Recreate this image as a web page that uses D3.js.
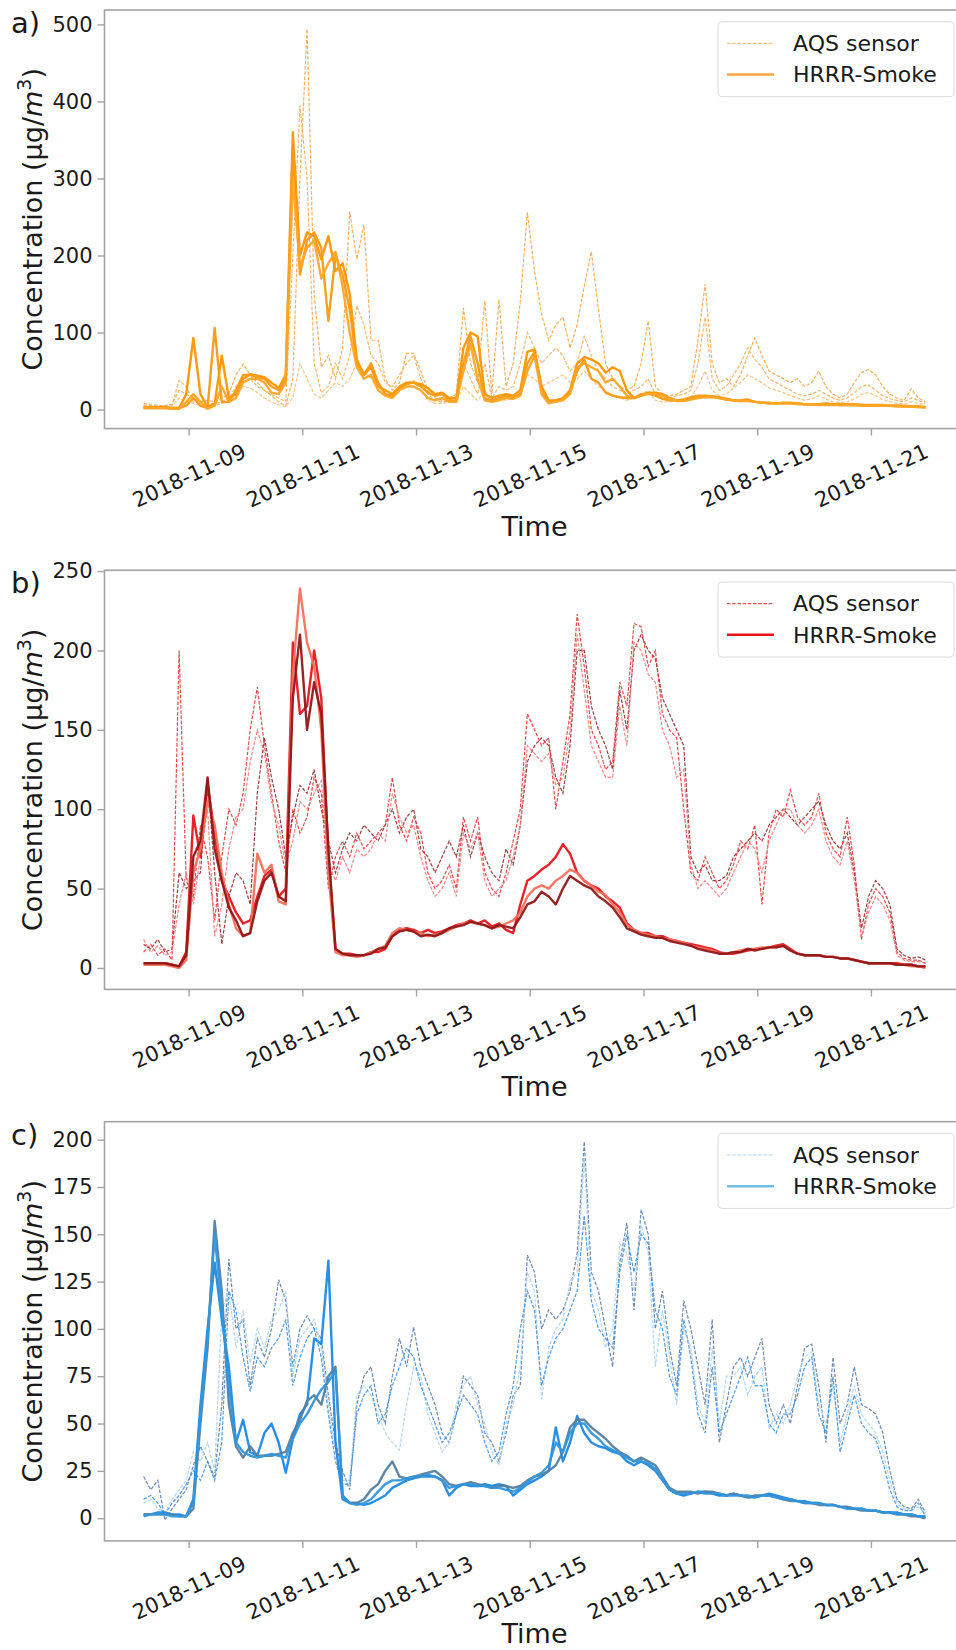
<!DOCTYPE html>
<html>
<head>
<meta charset="utf-8">
<script src="https://cdn.jsdelivr.net/npm/d3@7"></script>
<style>
  body { margin: 0; background: #fff; }
  svg { display: block; }
  text { font-family: "DejaVu Sans", sans-serif; }
</style>
</head>
<body>
<svg id="chart" width="956" height="1650"></svg>
<script>
// Three-hourly PM2.5 concentrations (µg/m³) from 2018-11-08 05:00 to 2018-11-21 23:00.
const startTime = new Date(2018, 10, 8, 5);
const stepHours = 3;
const tickLabels = ["2018-11-09", "2018-11-11", "2018-11-13", "2018-11-15", "2018-11-17", "2018-11-19", "2018-11-21"];

// Panel a) stations — AQS sensor readings
const aqsA1 = [8,6,5,5,7,25,20,15,10,12, 10,15,20,45,59,45,35,25,18,10, 5,40,300,494,150,55,70,40,80,257, 195,240,90,90,40,25,35,73,73,50, 25,15,12,15,20,132,60,35,141,20, 143,30,60,140,256,180,124,90,110,120, 80,110,160,205,130,60,40,30,25,30, 60,115,30,20,18,20,25,30,90,163, 60,35,40,30,45,70,93,70,50,45, 40,35,40,30,35,50,30,20,15,20, 35,48,52,45,30,20,15,12,27,15, 10];
const aqsA2 = [6,5,6,5,6,38,30,10,8,6, 8,10,15,30,42,40,30,25,20,15, 10,200,395,300,60,22,30,60,40,70, 135,110,70,60,35,30,45,60,70,40, 20,12,10,12,15,60,40,20,60,15, 30,25,30,60,100,80,60,70,80,70, 50,60,95,70,50,40,30,25,20,25, 30,40,20,15,15,18,20,25,60,120, 40,25,30,45,60,80,65,55,40,35, 30,25,20,18,20,25,20,15,12,15, 22,30,32,25,18,14,12,10,15,12, 8];
const aqsA3 = [5,4,4,4,5,15,10,8,5,5, 5,8,10,20,30,28,22,15,10,6, 4,15,60,40,20,15,25,35,30,40, 60,50,40,30,20,18,25,35,38,25, 12,8,8,10,10,30,20,12,25,10, 15,12,15,25,45,40,30,35,40,45, 35,40,50,40,30,25,18,15,12,15, 20,25,12,10,10,12,14,16,30,50, 25,18,20,28,35,45,40,35,28,25, 22,18,15,12,14,18,14,10,9,10, 14,20,22,18,13,10,8,7,10,8, 6];
// Panel a) stations — HRRR-Smoke forecasts
const hrrrA1 = [3,3,3,3,2,2,20,93,20,3, 8,70,15,20,40,46,44,42,35,28, 45,360,200,230,225,195,225,180,190,150, 65,45,55,30,25,20,30,35,35,33, 28,20,22,15,15,80,100,95,20,15, 18,20,18,25,75,78,30,12,12,15, 25,60,68,65,60,48,55,50,25,15, 18,22,22,20,15,12,12,14,16,17, 17,16,14,12,12,13,10,9,8,8, 9,9,8,7,7,7,8,7,7,7, 7,6,6,6,6,5,5,5,4,4, 3];
const hrrrA2 = [2,2,2,2,2,2,5,15,5,2, 106,10,10,25,45,45,42,40,30,25, 40,340,175,220,230,210,115,200,175,130, 60,45,60,35,20,18,28,33,35,30, 22,18,20,12,12,60,95,60,15,12, 15,18,15,20,60,75,25,10,12,14, 22,50,65,40,35,22,18,16,15,15, 20,21,18,14,12,12,13,16,18,18, 17,15,13,12,11,12,10,9,9,8, 8,8,8,7,7,7,7,7,6,6, 6,6,5,5,5,5,5,4,4,4, 3];
const hrrrA3 = [2,2,2,2,1,1,10,20,10,1, 5,30,10,15,35,40,40,35,22,20, 35,300,185,210,220,170,190,205,160,100, 55,40,45,25,18,15,25,30,30,25, 15,12,15,10,10,50,85,40,12,10, 12,15,14,18,50,70,20,8,10,12, 20,55,60,55,50,35,40,30,18,15, 18,20,20,18,14,11,11,13,15,16, 16,15,13,12,11,11,10,9,8,8, 8,8,7,7,7,6,6,6,6,6, 6,5,5,5,5,5,4,4,4,3, 3];

// Panel b) stations — AQS sensor readings
const aqsB1 = [15,12,18,10,12,60,50,55,60,120, 60,15,45,60,55,40,110,145,120,100, 70,95,115,110,125,100,80,60,75,85, 80,90,85,80,90,100,85,95,100,75, 70,60,70,80,70,90,70,85,70,60, 55,75,65,90,130,140,145,140,120,110, 140,200,200,165,150,140,125,175,150,200, 210,200,195,170,160,150,140,70,60,65, 55,55,58,70,75,80,85,80,90,95, 100,95,90,95,100,105,90,80,75,85, 60,25,45,55,50,40,12,8,6,7, 5];
const aqsB2 = [10,15,8,12,5,200,55,45,90,70, 30,70,100,90,110,150,177,140,110,80, 60,100,85,95,120,110,50,70,80,70, 85,75,80,85,90,120,90,80,95,85, 60,50,55,65,50,95,80,95,60,50, 45,60,80,100,160,150,140,145,100,130, 160,223,190,150,140,125,130,180,165,217, 215,190,200,160,150,145,100,60,55,70, 60,50,55,65,80,75,90,40,85,100, 95,112,95,90,95,110,85,75,70,95, 65,18,40,50,45,35,10,6,5,5, 3];
const aqsB3 = [18,10,14,8,10,40,60,40,70,100, 20,40,75,95,100,130,150,135,105,90, 65,80,105,100,110,118,65,55,70,60, 75,70,75,85,80,110,95,85,90,70, 55,45,50,60,45,85,75,85,55,45, 50,55,70,90,140,135,130,135,115,120, 150,210,175,140,130,120,120,165,140,205, 200,185,180,150,140,120,125,65,50,55, 50,45,50,60,70,80,75,60,80,90, 100,100,90,85,90,100,80,70,65,80, 55,20,35,45,40,30,8,5,4,4, 3];
// Panel b) stations — HRRR-Smoke forecasts
const hrrrB1 = [3,3,3,3,2,1,10,96,70,115, 85,55,45,35,28,30,45,58,62,45, 50,205,160,165,200,170,70,12,9,9, 8,8,10,10,12,20,24,25,24,22, 24,22,23,25,27,28,30,28,30,26, 28,24,22,40,55,58,62,65,70,78, 72,60,55,52,50,45,42,38,28,24, 22,22,20,20,18,17,16,15,14,13, 12,10,9,9,10,11,12,12,13,14, 15,12,9,8,8,8,7,7,6,6, 5,4,3,3,3,3,3,2,2,1, 1];
const hrrrB2 = [2,2,2,2,1,0,5,60,75,105, 90,60,40,25,20,22,72,60,65,42, 40,185,239,205,190,150,60,10,8,8, 7,8,10,12,14,22,25,24,23,22, 20,21,22,24,26,28,29,28,27,25, 26,28,30,35,45,50,52,50,55,58, 62,60,55,52,48,46,40,35,27,24, 22,21,20,19,18,17,16,14,13,12, 11,9,9,10,11,12,12,13,13,13, 14,11,9,8,8,8,7,7,6,6, 5,4,3,3,3,3,2,2,1,1, 0];
const hrrrB3 = [3,3,3,3,2,1,8,70,80,120, 75,55,38,30,20,22,42,55,60,45, 42,170,210,150,180,160,75,12,9,8, 8,8,9,12,13,20,23,24,23,20, 21,20,22,25,26,27,29,28,27,25, 27,26,25,32,40,42,48,45,40,50, 58,55,52,50,45,42,38,32,25,23, 21,20,19,19,17,16,15,14,12,11, 10,9,9,10,10,12,11,12,13,13, 14,11,9,8,8,8,7,7,6,6, 5,4,3,3,3,3,2,2,2,1, 1];

// Panel c) stations — AQS sensor readings
const aqsC1 = [22,15,20,-1,5,10,15,28,38,30, 22,60,137,100,105,70,95,85,100,126, 115,80,100,107,100,95,65,40,25,15, 60,75,80,60,50,75,95,80,101,80, 70,60,45,40,55,75,70,65,45,40, 30,45,65,70,139,130,100,110,105,110, 120,140,199,130,120,100,80,135,156,110, 163,150,100,120,90,70,115,100,80,60, 105,40,60,80,85,75,85,95,60,50, 60,50,70,90,92,70,40,85,50,60, 80,60,58,55,45,25,10,6,5,10, 3];
const aqsC2 = [8,10,5,3,10,15,20,35,30,40, 25,110,120,90,110,82,100,90,105,110, 120,75,95,100,105,90,60,35,20,20, 65,70,65,55,45,40,36,60,80,75, 55,45,35,40,60,70,75,60,50,35, 28,50,60,80,130,120,63,90,100,105, 125,130,190,120,110,90,100,145,140,120, 155,140,80,110,85,60,100,90,60,50, 90,50,75,75,80,65,75,80,47,55, 50,60,75,85,88,60,50,70,40,55, 70,55,50,45,35,20,8,5,4,6, 2];
const aqsC3 = [10,12,8,2,8,12,18,25,20,30, 20,40,120,110,85,67,85,80,90,95, 105,70,85,95,100,85,55,30,18,18, 55,65,70,50,55,70,80,90,85,70, 60,50,40,45,55,65,60,55,40,30, 35,55,70,100,120,110,70,85,95,100, 110,120,160,115,100,95,90,130,150,130, 150,145,110,100,75,65,105,85,55,45, 80,45,55,65,75,85,70,70,50,45, 55,55,65,80,85,55,45,75,35,50, 65,50,45,42,30,15,6,4,4,8, 1];
// Panel c) stations — HRRR-Smoke forecasts
const hrrrC1 = [2,2,3,3,2,2,1,10,60,100, 135,105,80,40,52,35,33,45,50,40, 24,42,55,60,95,92,136,40,10,8, 8,7,8,10,12,16,18,20,21,22, 22,22,20,12,16,18,17,17,18,17, 18,17,12,15,18,20,22,25,48,30, 40,54,45,40,38,37,35,34,30,28, 30,28,25,20,15,13,12,13,14,14, 13,12,12,13,12,11,11,12,13,12, 11,10,9,9,8,8,7,7,6,6, 5,5,4,4,3,3,3,2,2,1, 0];
const hrrrC2 = [2,2,2,2,2,1,1,5,50,90, 157,120,60,38,32,38,33,33,33,34, 35,45,52,62,65,60,75,80,12,8, 8,10,15,18,25,30,22,21,22,23, 24,25,22,18,17,18,19,18,17,16, 17,17,16,17,20,22,23,25,28,35, 48,52,52,48,45,42,38,35,33,30, 32,30,28,22,16,14,14,14,13,14, 14,13,12,13,12,11,12,12,12,11, 10,9,9,8,8,7,7,7,6,6, 5,4,4,4,3,3,2,2,1,1, 0];
const hrrrC3 = [1,2,2,2,1,1,1,8,55,95, 150,110,70,40,35,33,32,33,34,33, 32,42,50,55,62,68,72,78,12,8, 7,8,10,14,18,20,20,21,22,22, 23,22,20,16,17,18,18,17,17,16, 16,15,14,16,19,22,24,28,40,35, 45,50,50,45,42,38,36,34,32,30, 30,29,26,21,15,13,13,13,14,13, 13,13,12,12,12,12,11,12,12,11, 10,10,9,8,8,8,7,7,6,5, 5,5,4,4,3,3,2,2,2,1, 1];

// Panel setup: station series, colours and y-axis ticks
const panels = [
  {
    tag: "a)", top: 10, bottom: 428.6, yDomain: [-24.7, 518.7],
    yTicks: [0, 100, 200, 300, 400, 500],
    aqs: [aqsA1, aqsA2, aqsA3], hrrr: [hrrrA1, hrrrA2, hrrrA3],
    aqsColors: ["#f0a850", "#f3b060", "#f6bf78"],
    hrrrColors: ["#ff9500", "#f99a10", "#ffa526"],
    legendAqs: "#f7c27a", legendHrrr: "#f7a93b"
  },
  {
    tag: "b)", top: 570.3, bottom: 989.4, yDomain: [-13.5, 250.5],
    yTicks: [0, 50, 100, 150, 200, 250],
    aqs: [aqsB1, aqsB2, aqsB3], hrrr: [hrrrB1, hrrrB2, hrrrB3],
    aqsColors: ["#8a2a2a", "#e03838", "#f07a7a"],
    hrrrColors: ["#e8141b", "#f4705c", "#901818"],
    legendAqs: "#e05555", legendHrrr: "#e8141b"
  },
  {
    tag: "c)", top: 1121.7, bottom: 1540.9, yDomain: [-12, 209.5],
    yTicks: [0, 25, 50, 75, 100, 125, 150, 175, 200],
    aqs: [aqsC1, aqsC2, aqsC3], hrrr: [hrrrC1, hrrrC2, hrrrC3],
    aqsColors: ["#5a7ea8", "#a9d1f0", "#3f8fd8"],
    hrrrColors: ["#1e88e5", "#55809f", "#3196dc"],
    legendAqs: "#b0d4ee", legendHrrr: "#6cc0e8"
  }
];

const svg = d3.select("#chart");
const svgHeight = +svg.attr("height");
const left = 104.5, right = 964.5;
const spineColor = "#a3a3a3";
const textColor = "#1a1a1a";

const nPoints = aqsA1.length;
const timeAt = i => d3.timeHour.offset(startTime, i * stepHours);
const endTime = timeAt(nPoints - 1);
const padMs = (endTime - startTime) * 0.05;
const x = d3.scaleTime()
  .domain([new Date(+startTime - padMs), new Date(+endTime + padMs)])
  .range([left, right]);

const parseDay = d3.timeParse("%Y-%m-%d");
const tickDates = tickLabels.map(parseDay);
const fmtDay = d3.timeFormat("%Y-%m-%d");

panels.forEach((p, pi) => {
  const y = d3.scaleLinear().domain(p.yDomain).range([p.bottom, p.top]);
  const g = svg.append("g");

  const clipId = "clip" + pi;
  g.append("clipPath").attr("id", clipId)
    .append("rect")
    .attr("x", left).attr("y", p.top)
    .attr("width", right - left).attr("height", p.bottom - p.top);

  const line = d3.line()
    .x((d, i) => x(timeAt(i)))
    .y(d => y(d));

  const plot = g.append("g").attr("clip-path", `url(#${clipId})`);

  // AQS sensor traces (dashed)
  p.aqs.forEach((series, k) => {
    plot.append("path")
      .datum(series)
      .attr("d", line)
      .attr("fill", "none")
      .attr("stroke", p.aqsColors[k])
      .attr("stroke-width", 1.2)
      .attr("stroke-dasharray", "3.6,1.6")
      .attr("opacity", 0.9);
  });

  // HRRR-Smoke traces (solid)
  p.hrrr.forEach((series, k) => {
    plot.append("path")
      .datum(series)
      .attr("d", line)
      .attr("fill", "none")
      .attr("stroke", p.hrrrColors[k])
      .attr("stroke-width", 2.4)
      .attr("stroke-linejoin", "round")
      .attr("opacity", 0.95);
  });

  // frame
  g.append("rect")
    .attr("x", left).attr("y", p.top)
    .attr("width", right - left).attr("height", p.bottom - p.top)
    .attr("fill", "none")
    .attr("stroke", spineColor)
    .attr("stroke-width", 1.6);

  // x axis
  const xAxis = g.append("g")
    .attr("transform", `translate(0,${p.bottom})`)
    .call(d3.axisBottom(x).tickValues(tickDates).tickFormat(fmtDay).tickSize(7).tickSizeOuter(0));
  xAxis.select(".domain").remove();
  xAxis.selectAll(".tick line").attr("stroke", spineColor).attr("stroke-width", 1.4);
  xAxis.selectAll(".tick text")
    .attr("y", null)
    .attr("dy", "0.35em")
    .attr("text-anchor", "middle")
    .attr("transform", "translate(0,47) rotate(-25)")
    .attr("fill", textColor)
    .style("font-size", "21px")
    .style("font-family", "'DejaVu Sans', sans-serif");

  // y axis
  const yAxis = g.append("g")
    .attr("transform", `translate(${left},0)`)
    .call(d3.axisLeft(y).tickValues(p.yTicks).tickFormat(d3.format("d")).tickSize(7).tickPadding(5).tickSizeOuter(0));
  yAxis.select(".domain").remove();
  yAxis.selectAll(".tick line").attr("stroke", spineColor).attr("stroke-width", 1.4);
  yAxis.selectAll(".tick text")
    .attr("fill", textColor)
    .style("font-size", "21px")
    .style("font-family", "'DejaVu Sans', sans-serif");

  // axis titles
  const yLab = g.append("text")
    .attr("transform", `translate(42,${(p.top + p.bottom) / 2}) rotate(-90)`)
    .attr("text-anchor", "middle")
    .attr("fill", textColor)
    .style("font-size", "27px");
  yLab.append("tspan").text("Concentration (μg/");
  yLab.append("tspan").attr("font-style", "italic").text("m");
  yLab.append("tspan").attr("dy", -11).style("font-size", "19px").text("3");
  yLab.append("tspan").attr("dy", 11).text(")");

  g.append("text")
    .attr("x", (left + right) / 2)
    .attr("y", Math.min(p.bottom + 107, svgHeight - 7))
    .attr("text-anchor", "middle")
    .attr("fill", textColor)
    .style("font-size", "27px")
    .text("Time");

  // panel tag
  g.append("text")
    .attr("x", 11)
    .attr("y", p.top + 23)
    .attr("fill", textColor)
    .style("font-size", "29px")
    .text(p.tag);

  // legend
  const lg = g.append("g").attr("transform", `translate(718,${p.top + 11.7})`);
  lg.append("rect")
    .attr("width", 236).attr("height", 75).attr("rx", 4)
    .attr("fill", "#fff").attr("fill-opacity", 0.8)
    .attr("stroke", "#dcdcdc").attr("stroke-width", 1);
  const entries = [
    { label: "AQS sensor", color: p.legendAqs, dash: "3.6,1.6", width: 1.2, yOff: 21.6 },
    { label: "HRRR-Smoke", color: p.legendHrrr, dash: null, width: 2.4, yOff: 52.8 }
  ];
  entries.forEach(e => {
    lg.append("line")
      .attr("x1", 9).attr("x2", 56)
      .attr("y1", e.yOff).attr("y2", e.yOff)
      .attr("stroke", e.color)
      .attr("stroke-width", e.width)
      .attr("stroke-dasharray", e.dash);
    lg.append("text")
      .attr("x", 75).attr("y", e.yOff)
      .attr("dy", "0.35em")
      .attr("fill", textColor)
      .style("font-size", "22px")
      .text(e.label);
  });
});
</script>
</body>
</html>
